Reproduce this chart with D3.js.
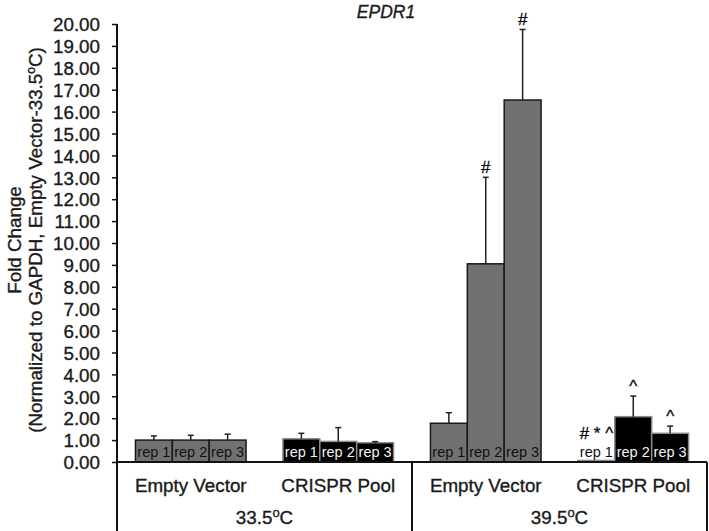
<!DOCTYPE html>
<html>
<head>
<meta charset="utf-8">
<script src="https://cdn.jsdelivr.net/npm/d3@7"></script>
<style>
  body { margin: 0; background: #fff; }
  text { font-family: "Liberation Sans", Arial, sans-serif; fill: #1a1a1a; }
  .heavy { stroke: #1a1a1a; stroke-width: 0.35px; }
</style>
</head>
<body>
<script>
const width = 709;
const height = 531;

// data
const groupKeys = ["ev33", "cr33", "ev39", "cr39"];
const groupNames = ["Empty Vector", "CRISPR Pool", "Empty Vector", "CRISPR Pool"];
const temps = ["33.5", "39.5"];
const reps = ["rep 1", "rep 2", "rep 3"];
const means = [
  [1.00, 1.00, 1.00],
  [1.06, 0.94, 0.88],
  [1.77, 9.05, 16.53],
  [0.07, 2.07, 1.31]
];
const errs = [
  [0.19, 0.22, 0.27],
  [0.25, 0.63, 0.05],
  [0.48, 3.95, 3.22],
  [0, 0.94, 0.33]
];
const marks = [
  ["", "", ""],
  ["", "", ""],
  ["", "#", "#"],
  ["# * ^", "^", "^"]
];
const yTicks = d3.range(0, 21, 1);

const plotL = 117, plotR = 707, plotT = 24, base = 462;

const svg = d3.select("body").append("svg")
  .attr("width", width)
  .attr("height", height);

const x0 = d3.scaleBand()
  .domain(groupKeys)
  .range([plotL, plotR])
  .paddingInner(0.25)
  .paddingOuter(0.125);

const x1 = d3.scaleBand()
  .domain(reps)
  .range([0, x0.bandwidth()]);

const y = d3.scaleLinear()
  .domain([0, 20])
  .range([base, plotT]);

// title
svg.append("text")
  .attr("class", "heavy")
  .attr("x", 386).attr("y", 18)
  .attr("text-anchor", "middle")
  .style("font-size", "17.5px")
  .style("font-style", "italic")
  .text("EPDR1");

// y axis
const yAxis = svg.append("g")
  .attr("transform", `translate(${plotL},0)`)
  .call(d3.axisLeft(y).tickValues(yTicks).tickFormat(d3.format(".2f")).tickSize(5).tickPadding(12));
yAxis.select(".domain").remove();
yAxis.selectAll(".tick line").attr("stroke", "#111").attr("stroke-width", 1.5);
yAxis.selectAll(".tick text")
  .attr("class", "heavy")
  .style("font-size", "18.8px")
  .style("font-family", "Liberation Sans, Arial, sans-serif")
  .attr("fill", "#1a1a1a")
  .attr("dy", "0.36em");

// y axis title
const yt = svg.append("text")
  .attr("class", "heavy")
  .attr("transform", "translate(0,240) rotate(-90)")
  .attr("text-anchor", "middle")
  .style("font-size", "18.8px");
yt.append("tspan").attr("x", 0).attr("y", 21).text("Fold Change");
const l2 = yt.append("tspan").attr("x", 0).attr("y", 42);
l2.text("(Normalized to GAPDH, Empty Vector-33.5");
yt.append("tspan").attr("dy", -7).style("font-size", "12px").text("o");
yt.append("tspan").attr("dy", 7).text("C)");

// bars
const bars = svg.append("g");
groupKeys.forEach((g, gi) => {
  const dark = g.startsWith("cr");
  const grp = bars.append("g").attr("transform", `translate(${x0(g)},0)`);
  reps.forEach((r, ri) => {
    const v = means[gi][ri];
    const bx = x1(r);
    const cx = bx + x1.bandwidth() / 2;
    grp.append("rect")
      .attr("x", bx)
      .attr("y", y(v))
      .attr("width", x1.bandwidth())
      .attr("height", base - y(v))
      .attr("fill", dark ? "#000" : "#717171")
      .attr("stroke", dark ? "#8a8a8a" : "#1a1a1a")
      .attr("stroke-width", 1.5);
    const e = errs[gi][ri];
    if (e > 0) {
      grp.append("line")
        .attr("x1", cx).attr("x2", cx)
        .attr("y1", y(v)).attr("y2", y(v + e))
        .attr("stroke", "#222").attr("stroke-width", 1.5);
      grp.append("line")
        .attr("x1", cx - 3).attr("x2", cx + 3)
        .attr("y1", y(v + e)).attr("y2", y(v + e))
        .attr("stroke", "#222").attr("stroke-width", 1.5);
    }
    // label colour: white on black bars tall enough to hold it
    const onDark = dark && (base - y(v)) > 12;
    grp.append("text")
      .attr("x", cx).attr("y", base - 5)
      .attr("text-anchor", "middle")
      .style("font-size", "14.5px")
      .style("fill", onDark ? "#f2f2f2" : "#111")
      .text(r);
    if (marks[gi][ri]) {
      const my = e > 0 ? y(v + e) - 4 : 439;
      grp.append("text")
        .attr("class", "heavy")
        .attr("x", cx).attr("y", my)
        .attr("text-anchor", "middle")
        .style("font-size", "17px")
        .style("fill", "#000")
        .text(marks[gi][ri]);
    }
  });
  svg.append("text")
    .attr("class", "heavy")
    .attr("x", x0(g) + x0.bandwidth() / 2)
    .attr("y", 492)
    .attr("text-anchor", "middle")
    .style("font-size", "18.8px")
    .text(groupNames[gi]);
});

// frame lines
const lc = "#111";
svg.append("line").attr("x1", plotL).attr("x2", plotL).attr("y1", plotT).attr("y2", height)
  .attr("stroke", lc).attr("stroke-width", 2);
svg.append("line").attr("x1", plotL).attr("x2", plotR).attr("y1", base).attr("y2", base)
  .attr("stroke", lc).attr("stroke-width", 2);
const mid = (plotL + plotR) / 2;
[mid, plotR].forEach(xx => {
  svg.append("line").attr("x1", xx).attr("x2", xx).attr("y1", base).attr("y2", height)
    .attr("stroke", lc).attr("stroke-width", 2);
});

// temperature labels
temps.forEach((t, i) => {
  const cx = i === 0 ? (plotL + mid) / 2 : (mid + plotR) / 2;
  const tt = svg.append("text")
    .attr("class", "heavy")
    .attr("x", cx).attr("y", 524)
    .attr("text-anchor", "middle")
    .style("font-size", "18.8px");
  tt.append("tspan").text(t);
  tt.append("tspan").attr("dy", -7).style("font-size", "13px").text("o");
  tt.append("tspan").attr("dy", 7).text("C");
});
</script>
</body>
</html>
